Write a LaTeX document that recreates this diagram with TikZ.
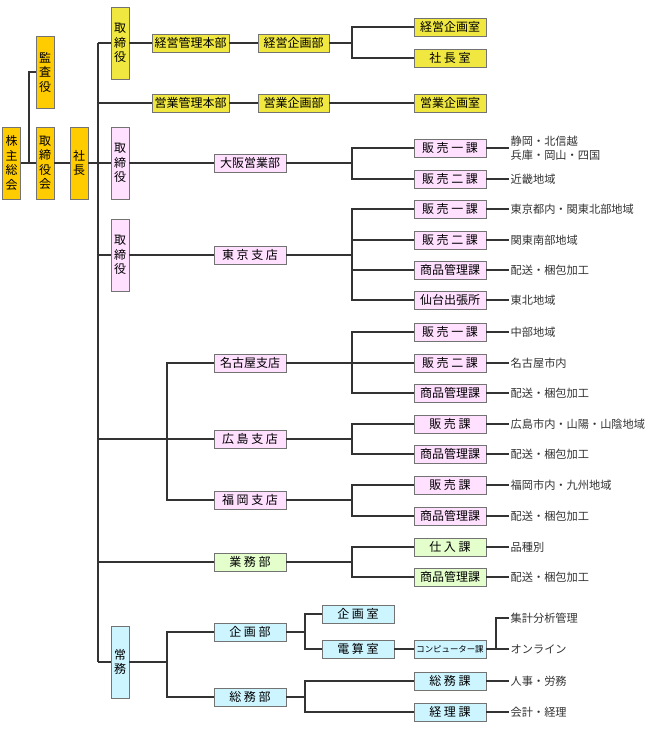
\documentclass[tikz,border=0pt]{standalone}
\usepackage{fontspec}
\setmainfont{Noto Sans CJK JP}
\newfontfamily\jpwide[LetterSpace=22]{Noto Sans CJK JP}
\definecolor{daidai}{HTML}{FFCC00}
\definecolor{kiiro}{HTML}{F0E840}
\definecolor{momo}{HTML}{FFE0FF}
\definecolor{midori}{HTML}{E4FFCC}
\definecolor{mizu}{HTML}{CCF5FF}
\definecolor{sen}{HTML}{333333}

\begin{document}
\begin{tikzpicture}[%
    x=1pt, y=-1pt,
    font=\fontsize{12}{14.5}\selectfont,
    line width=1.3pt, draw=sen,
    box/.style={draw=black!55, line width=0.9pt, inner sep=0pt,
      minimum width=72pt, minimum height=18pt},
    tall/.style={box, minimum width=18pt, minimum height=72pt, align=center},
    wide/.style={font=\jpwide\fontsize{12}{14.5}\selectfont},
    note/.style={anchor=west, inner sep=1pt, align=left, text=black!80,
      font=\fontsize{11.2}{14.5}\selectfont},
    bk/.style={to path={|- (\tikztotarget)}}
  ]
    \useasboundingbox (0,0) rectangle (650,730);

    \node[tall, fill=daidai] (kabunushi) at (11.5,163) {株\\主\\総\\会};
    \node[tall, fill=daidai] (torikai) at (45,163) {取\\締\\役\\会};
    \node[tall, fill=daidai] (kansa) at (45,72) {監\\査\\役};
    \node[tall, fill=daidai] (shacho) at (79,163) {社\\長};

    \node[tall, fill=kiiro] (tori1) at (120,43) {取\\締\\役};
    \node[box, fill=kiiro, minimum width=77pt] (keieiHonbu) at (190.5,43) {経営管理本部};
    \node[box, fill=kiiro, minimum width=71pt] (keieiKikaku) at (293.5,43) {経営企画部};
    \node[box, fill=kiiro] (keieiShitsu) at (450,27) {経営企画室};
    \node[box, fill=kiiro, wide] (shachoShitsu) at (450,58) {社長室};
    \node[box, fill=kiiro, minimum width=77pt] (eigyoHonbu) at (190.5,103) {営業管理本部};
    \node[box, fill=kiiro, minimum width=71pt] (eigyoKikaku) at (293.5,103) {営業企画部};
    \node[box, fill=kiiro] (eigyoShitsu) at (450,103) {営業企画室};

    \node[tall, fill=momo] (tori2) at (120,163) {取\\締\\役};
    \node[box, fill=momo] (osaka) at (250,163) {大阪営業部};
    \node[box, fill=momo, wide] (osaka1) at (450,148) {販売一課};
    \node[box, fill=momo, wide] (osaka2) at (450,179) {販売二課};
    \node[note] (osaka1t) at (509,148) {静岡・北信越\\兵庫・岡山・四国};
    \node[note] (osaka2t) at (509,179) {近畿地域};

    \node[tall, fill=momo] (tori3) at (120,255) {取\\締\\役};
    \node[box, fill=momo, wide] (tokyo) at (250,255) {東京支店};
    \node[box, fill=momo, wide] (tokyo1) at (450,209) {販売一課};
    \node[box, fill=momo, wide] (tokyo2) at (450,240) {販売二課};
    \node[box, fill=momo] (tokyo3) at (450,270) {商品管理課};
    \node[box, fill=momo] (tokyo4) at (450,300) {仙台出張所};
    \node[note] (tokyo1t) at (509,209) {東京都内・関東北部地域};
    \node[note] (tokyo2t) at (509,240) {関東南部地域};
    \node[note] (tokyo3t) at (509,270) {配送・梱包加工};
    \node[note] (tokyo4t) at (509,300) {東北地域};

    \node[box, fill=momo] (nagoya) at (250,363) {名古屋支店};
    \node[box, fill=momo, wide] (nagoya1) at (450,332) {販売一課};
    \node[box, fill=momo, wide] (nagoya2) at (450,363) {販売二課};
    \node[box, fill=momo] (nagoya3) at (450,393) {商品管理課};
    \node[note] (nagoya1t) at (509,332) {中部地域};
    \node[note] (nagoya2t) at (509,363) {名古屋市内};
    \node[note] (nagoya3t) at (509,393) {配送・梱包加工};

    \node[box, fill=momo, wide] (hiroshima) at (250,439) {広島支店};
    \node[box, fill=momo, wide] (hiroshima1) at (450,424) {販売課};
    \node[box, fill=momo] (hiroshima2) at (450,454) {商品管理課};
    \node[note] (hiroshima1t) at (509,424) {広島市内・山陽・山陰地域};
    \node[note] (hiroshima2t) at (509,454) {配送・梱包加工};

    \node[box, fill=momo, wide] (fukuoka) at (250,500) {福岡支店};
    \node[box, fill=momo, wide] (fukuoka1) at (450,485) {販売課};
    \node[box, fill=momo] (fukuoka2) at (450,516) {商品管理課};
    \node[note] (fukuoka1t) at (509,485) {福岡市内・九州地域};
    \node[note] (fukuoka2t) at (509,516) {配送・梱包加工};

    \node[box, fill=midori, wide] (gyomu) at (250,562) {業務部};
    \node[box, fill=midori, wide] (gyomu1) at (450,547) {仕入課};
    \node[box, fill=midori] (gyomu2) at (450,577) {商品管理課};
    \node[note] (gyomu1t) at (509,547) {品種別};
    \node[note] (gyomu2t) at (509,577) {配送・梱包加工};

    \node[tall, fill=mizu] (jomu) at (120,662) {常\\務};
    \node[box, fill=mizu, wide] (kikakubu) at (250,632) {企画部};
    \node[box, fill=mizu, wide] (kikakuShitsu) at (358,614) {企画室};
    \node[box, fill=mizu, wide] (densan) at (358,649) {電算室};
    \node[box, fill=mizu, font=\fontsize{8.4}{10}\selectfont] (computer) at (450,649) {コンピューター課};
    \node[note] (computer1t) at (509,618) {集計分析管理};
    \node[note] (computer2t) at (509,649) {オンライン};
    \node[box, fill=mizu, wide] (somubu) at (250,697) {総務部};
    \node[box, fill=mizu, wide] (somu1) at (450,681) {総務課};
    \node[box, fill=mizu, wide] (somu2) at (450,712) {経理課};
    \node[note] (somu1t) at (509,681) {人事・労務};
    \node[note] (somu2t) at (509,712) {会計・経理};

    \coordinate (kj) at (29,163);
    \coordinate (trunk) at (98,43);
    \coordinate (trunkEnd) at (98,662);
    \coordinate (shiten) at (167,439);
    \coordinate (jomuJ) at (167,662);
    \coordinate (b1) at (352,43);
    \coordinate (b2) at (352,163);
    \coordinate (b3) at (352,255);
    \coordinate (b4) at (352,363);
    \coordinate (b5) at (352,439);
    \coordinate (b6) at (352,500);
    \coordinate (b7) at (352,562);
    \coordinate (b8) at (305,632);
    \coordinate (b9) at (496,649);
    \coordinate (b10) at (305,697);

    \draw (trunk) -- (trunkEnd);
    \draw (kansa) -| (kj);
    \path (kabunushi) edge (torikai)
          (torikai)   edge (shacho)
          (shacho)    edge (tori2)
          (tori1)     edge (tori1 -| trunk)
          (tori1)     edge (keieiHonbu)
          (keieiHonbu) edge (keieiKikaku)
          (keieiKikaku) edge (b1)
          (b1)        edge[bk] (keieiShitsu)
          (b1)        edge[bk] (shachoShitsu)
          (eigyoHonbu) edge (eigyoHonbu -| trunk)
          (eigyoHonbu) edge (eigyoKikaku)
          (eigyoKikaku) edge (eigyoShitsu);

    \path (tori2)  edge (osaka)
          (osaka)  edge (b2)
          (b2)     edge[bk] (osaka1)
          (b2)     edge[bk] (osaka2)
          (osaka1) edge (osaka1t)
          (osaka2) edge (osaka2t);

    \path (tori3)  edge (tori3 -| trunk)
          (tori3)  edge (tokyo)
          (tokyo)  edge (b3)
          (b3)     edge[bk] (tokyo1)
          (b3)     edge[bk] (tokyo2)
          (b3)     edge[bk] (tokyo3)
          (b3)     edge[bk] (tokyo4)
          (tokyo1) edge (tokyo1t)
          (tokyo2) edge (tokyo2t)
          (tokyo3) edge (tokyo3t)
          (tokyo4) edge (tokyo4t);

    \path (hiroshima) edge (hiroshima -| trunk)
          (shiten) edge[bk] (nagoya)
          (shiten) edge[bk] (fukuoka)
          (nagoya) edge (b4)
          (b4)     edge[bk] (nagoya1)
          (b4)     edge[bk] (nagoya2)
          (b4)     edge[bk] (nagoya3)
          (nagoya1) edge (nagoya1t)
          (nagoya2) edge (nagoya2t)
          (nagoya3) edge (nagoya3t)
          (hiroshima) edge (b5)
          (b5)     edge[bk] (hiroshima1)
          (b5)     edge[bk] (hiroshima2)
          (hiroshima1) edge (hiroshima1t)
          (hiroshima2) edge (hiroshima2t)
          (fukuoka) edge (b6)
          (b6)     edge[bk] (fukuoka1)
          (b6)     edge[bk] (fukuoka2)
          (fukuoka1) edge (fukuoka1t)
          (fukuoka2) edge (fukuoka2t);

    \path (gyomu)  edge (gyomu -| trunk)
          (gyomu)  edge (b7)
          (b7)     edge[bk] (gyomu1)
          (b7)     edge[bk] (gyomu2)
          (gyomu1) edge (gyomu1t)
          (gyomu2) edge (gyomu2t);

    \path (jomu)   edge (trunkEnd)
          (jomu)   edge (jomuJ)
          (jomuJ)  edge[bk] (kikakubu)
          (jomuJ)  edge[bk] (somubu)
          (kikakubu) edge (b8)
          (b8)     edge[bk] (kikakuShitsu)
          (b8)     edge[bk] (densan)
          (densan) edge (computer)
          (computer) edge (b9)
          (b9)     edge[bk] (computer1t)
          (b9)     edge (computer2t)
          (somubu) edge (b10)
          (b10)    edge[bk] (somu1)
          (b10)    edge[bk] (somu2)
          (somu1)  edge (somu1t)
          (somu2)  edge (somu2t);
  \end{tikzpicture}
\end{document}
